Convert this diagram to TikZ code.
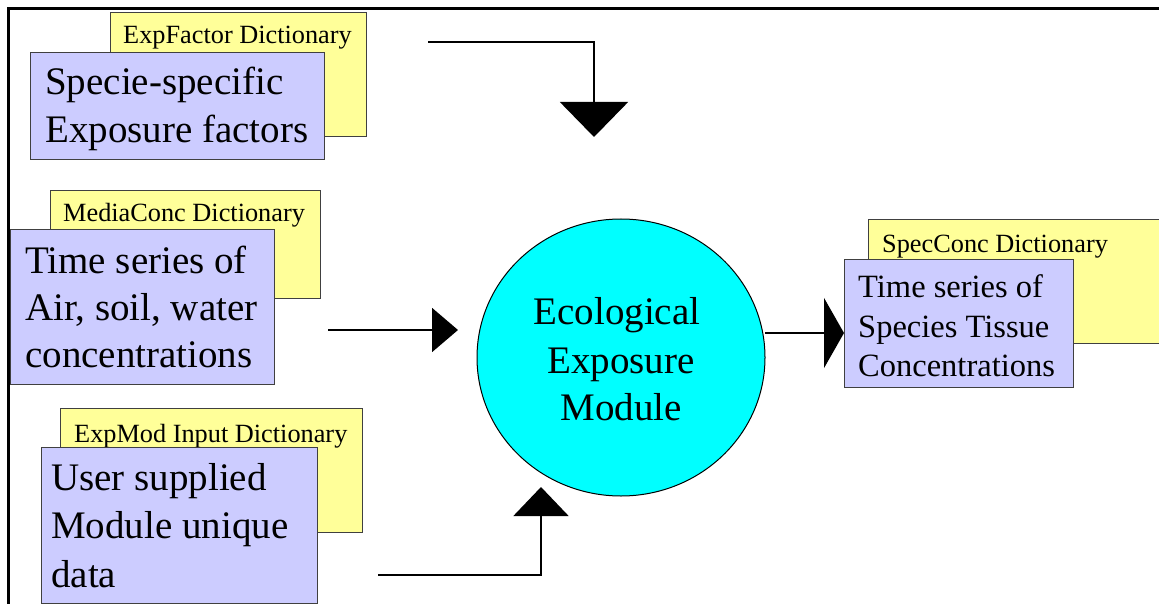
\documentclass[tikz,border=0pt]{standalone}
\usepackage{fontspec}
\setmainfont{Liberation Serif}
\usetikzlibrary{arrows.meta,shapes.geometric}
\definecolor{dictyellow}{HTML}{FFFF99}
\definecolor{datablue}{HTML}{CCCCFF}
\definecolor{modcyan}{HTML}{00FFFF}

\begin{document}
\begin{tikzpicture}[x=1pt,y=-1pt,
  card/.style={draw=black!75, line width=1pt, inner sep=0pt, anchor=north west},
  dict/.style={card, fill=dictyellow},
  data/.style={card, fill=datablue},
  dictlabel/.style={anchor=base west, inner sep=0pt, font=\fontsize{26.3}{30}\selectfont},
  bigline/.style={anchor=base west, inner sep=0pt, font=\fontsize{39}{47}\selectfont},
  midline/.style={anchor=base west, inner sep=0pt, font=\fontsize{32.5}{39}\selectfont},
  modline/.style={anchor=base, inner sep=0pt, font=\fontsize{39}{47}\selectfont},
  flow/.style={line width=1.8pt, line join=miter}]
\useasboundingbox (0,0) rectangle (1159,604);

% outer frame (open to the right and bottom)
\draw[line width=3pt] (1170,8.7) -- (8.7,8.7) -- (8.7,615);

% exposure factors
\node[dict, minimum width=256pt, minimum height=124pt] (dictF) at (110,12) {};
\node[dictlabel] (dictFt) at (123,44) {ExpFactor Dictionary};
\node[data, minimum width=294pt, minimum height=107pt] (dataF) at (30,52) {};
\node[bigline] (dataFa) at (45,95) {Specie-specific};
\node[bigline] (dataFb) at (45,143) {Exposure factors};

% media concentrations
\node[dict, minimum width=270pt, minimum height=108pt] (dictM) at (50,190) {};
\node[dictlabel] (dictMt) at (63,222) {MediaConc Dictionary};
\node[data, minimum width=264pt, minimum height=155pt] (dataM) at (10,229) {};
\node[bigline] (dataMa) at (25,273) {Time series of};
\node[bigline] (dataMb) at (25,320) {Air, soil, water};
\node[bigline] (dataMc) at (25,367) {concentrations};

% module input
\node[dict, minimum width=302pt, minimum height=124pt] (dictI) at (60,408) {};
\node[dictlabel] (dictIt) at (74,442) {ExpMod Input Dictionary};
\node[data, minimum width=276pt, minimum height=156pt] (dataI) at (41,447) {};
\node[bigline] (dataIa) at (51,490) {User supplied};
\node[bigline] (dataIb) at (51,538) {Module unique};
\node[bigline] (dataIc) at (51,587) {data};

% species concentrations (output)
\node[dict, minimum width=310pt, minimum height=124pt] (dictS) at (868,219) {};
\node[dictlabel] (dictSt) at (882,252) {SpecConc Dictionary};
\node[data, minimum width=229pt, minimum height=128pt] (dataS) at (844,259) {};
\node[midline] (dataSa) at (858,297) {Time series of};
\node[midline] (dataSb) at (858,337) {Species Tissue};
\node[midline] (dataSc) at (858,376) {Concentrations};

% the module
\node[ellipse, draw=black, line width=1pt, fill=modcyan, inner sep=0pt,
      minimum width=288pt, minimum height=277pt] (module) at (621,357.5) {};
\node[modline] (modA) at (617,324) {Ecological};
\node[modline] (modB) at (621,373) {Exposure};
\node[modline] (modC) at (621,420) {Module};

% connectors
\coordinate (inF) at (428,42);
\coordinate (tipF) at (594,137);
\coordinate (inM) at (328,330);
\coordinate (tipM) at (458,330);
\coordinate (inI) at (378,575);
\coordinate (tipI) at (541,487);
\coordinate (outS) at (765,333);
\coordinate (tipS) at (dataS.west |- outS);

\draw[flow, -{Triangle[length=35pt,width=68pt]}] (inF) -| (tipF);
\draw[flow, -{Triangle[length=26pt,width=44pt]}] (inM) -- (tipM);
\draw[flow, -{Triangle[length=29pt,width=55pt]}] (inI) -| (tipI);
\draw[flow, -{Triangle[length=20pt,width=70pt]}] (outS) -- (tipS);
\end{tikzpicture}
\end{document}
